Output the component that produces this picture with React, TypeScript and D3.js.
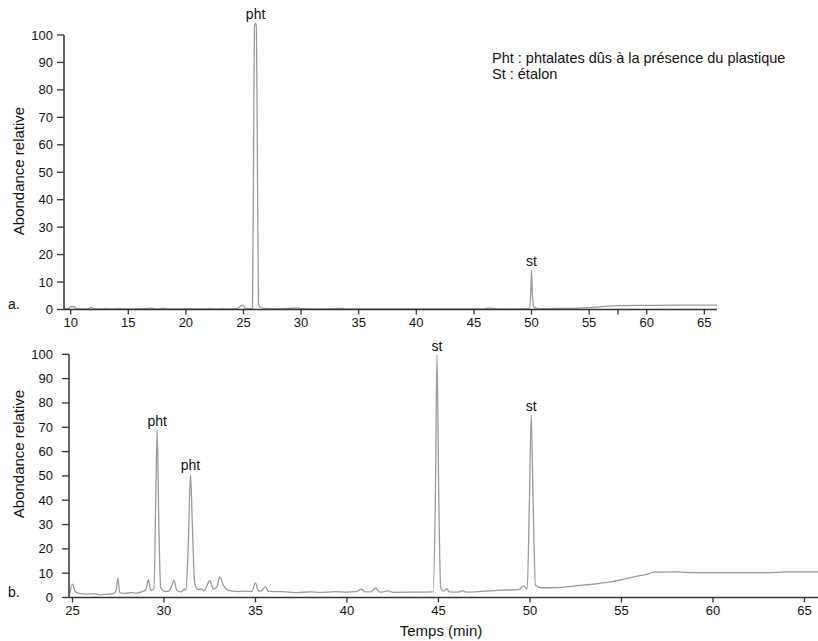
import React from "react";
import * as d3 from "d3";

// ---- Data ----
const topTimes = [9.42, 9.8, 10.0, 10.2, 10.5, 11.0, 11.5, 11.8, 12.0, 12.4, 13.0, 13.5, 14.2, 15.0, 15.8, 16.5, 17.0, 17.5, 18.0, 18.6, 19.5, 20.5, 21.2, 22.0, 22.6, 23.3, 24.0, 24.5, 24.9, 25.2, 25.5, 25.78, 25.88, 25.95, 26.05, 26.12, 26.2, 26.3, 26.45, 26.8, 27.5, 28.5, 29.7, 30.2, 31.5, 33.5, 34.0, 36.0, 40.0, 44.0, 45.8, 46.2, 47.5, 49.8, 49.92, 50.0, 50.08, 50.2, 50.4, 51.0, 52.0, 53.0, 54.0, 55.0, 56.0, 57.0, 58.0, 60.0, 63.0, 66.1];
const topValues = [0.3, 0.4, 1.0, 1.1, 0.3, 0.2, 0.2, 0.8, 0.3, 0.2, 0.3, 0.2, 0.3, 0.2, 0.3, 0.3, 0.5, 0.2, 0.4, 0.2, 0.2, 0.3, 0.2, 0.3, 0.2, 0.3, 0.2, 0.5, 1.6, 0.4, 0.3, 0.3, 60, 103, 104.3, 103, 60, 2, 0.8, 0.4, 0.3, 0.3, 0.6, 0.3, 0.2, 0.4, 0.2, 0.2, 0.2, 0.2, 0.2, 0.5, 0.2, 0.3, 5, 14.3, 5, 1, 0.5, 0.3, 0.4, 0.4, 0.5, 0.7, 1.0, 1.3, 1.4, 1.5, 1.6, 1.6];

const bottomTimes = [24.85, 25.0, 25.15, 25.4, 25.8, 26.2, 26.5, 26.9, 27.2, 27.38, 27.48, 27.58, 27.9, 28.2, 28.5, 28.8, 29.0, 29.15, 29.28, 29.45, 29.55, 29.63, 29.72, 29.82, 30.0, 30.15, 30.35, 30.55, 30.7, 30.95, 31.1, 31.2, 31.32, 31.45, 31.55, 31.68, 31.85, 32.0, 32.2, 32.5, 32.7, 32.9, 33.05, 33.25, 33.5, 34.0, 34.3, 34.8, 35.0, 35.15, 35.3, 35.55, 35.7, 36.5, 37.3, 38.0, 38.6, 39.3, 40.0, 40.5, 40.78, 41.0, 41.3, 41.56, 41.8, 42.25, 42.5, 43.5, 44.7, 44.83, 44.92, 45.02, 45.12, 45.3, 45.45, 45.6, 46.1, 46.3, 46.5, 47.5, 48.5, 49.4, 49.65, 49.85, 49.97, 50.07, 50.17, 50.3, 50.6, 51.5, 52.3, 53.0, 53.5, 54.3, 55.0, 55.7, 56.3, 56.8, 58.0, 59.0, 61.0, 63.0, 64.0, 65.74];
const bottomValues = [1.5, 5.5, 2.5, 1.6, 1.4, 1.6, 1.1, 1.4, 1.5, 3, 8, 2, 1.7, 2.0, 1.8, 2.4, 3.2, 7.2, 3.0, 3.5, 40, 69, 30, 4, 2.6, 2.5, 3.5, 7, 3, 2.3, 3.5, 3, 20, 50.7, 30, 6, 3.2, 3.5, 2.8, 7, 3.5, 4.5, 8.5, 5, 3, 2.4, 2.6, 2.5, 6.0, 2.8, 2.6, 4.5, 2.5, 2.4, 2.0, 2.3, 2.1, 2.4, 2.2, 2.4, 3.4, 2.3, 2.3, 3.9, 2.2, 2.7, 2.1, 2.2, 2.3, 40, 99.7, 40, 4, 2.6, 3.6, 2.3, 2.2, 2.8, 2.2, 2.6, 3.0, 3.2, 4.8, 3.5, 40, 75, 40, 5, 4.0, 4.1, 4.6, 5.2, 5.5, 6.3, 7.3, 8.5, 9.4, 10.4, 10.5, 10.2, 10.2, 10.2, 10.5, 10.5];

const yTicks = [0, 10, 20, 30, 40, 50, 60, 70, 80, 90, 100];
const topXTicks = [10, 15, 20, 25, 30, 35, 40, 45, 50, 55, 60, 65];
const topMinorTicks = [57.5];
const bottomXTicks = [25, 30, 35, 40, 45, 50, 55, 60, 65];

const topLabels = ["pht", "st"];
const topLabelTimes = [26.05, 50.0];
const topLabelValues = [104.3, 14.3];
const bottomLabels = ["pht", "pht", "st", "st"];
const bottomLabelTimes = [29.63, 31.45, 44.92, 50.07];
const bottomLabelValues = [69, 50.7, 99.7, 75];

const legendLines = ["Pht : phtalates dûs à la présence du plastique", "St : étalon"];

const FONT = "'Liberation Sans', Arial, Helvetica, sans-serif";
const LINE = "#9b9b9b";
const AXIS = "#333";

type PanelProps = {
  times: number[];
  values: number[];
  xDomain: [number, number];
  xRange: [number, number];
  yRange: [number, number];
  xTicks: number[];
  minorTicks: number[];
  labels: string[];
  labelTimes: number[];
  labelValues: number[];
  panelLetter: string;
  titleY: number;
};

function Panel(p: PanelProps) {
  const x = d3.scaleLinear().domain(p.xDomain).range(p.xRange);
  const y = d3.scaleLinear().domain([0, 100]).range(p.yRange);
  const pts: [number, number][] = p.times.map((t, i) => [t, p.values[i]]);
  const line = d3
    .line<[number, number]>()
    .x((d) => x(d[0]))
    .y((d) => y(d[1]))
    .curve(d3.curveMonotoneX);
  const x0 = p.xRange[0];
  const y0 = y(0);
  return (
    <g>
      <path d={line(pts) || ""} fill="none" stroke={LINE} strokeWidth={1.3} />
      {/* y axis */}
      <line x1={x0} x2={x0} y1={y(100)} y2={y0} stroke={AXIS} strokeWidth={1.5} />
      {yTicks.map((v) => (
        <g key={"y" + v}>
          <line x1={x0 - 7} x2={x0} y1={y(v)} y2={y(v)} stroke={AXIS} strokeWidth={1.3} />
          <text x={53} y={y(v) + 4.5} textAnchor="end" fontSize={13} fontFamily={FONT} fill="#111">
            {v}
          </text>
        </g>
      ))}
      {/* x axis */}
      <line x1={x0} x2={p.xRange[1]} y1={y0} y2={y0} stroke={AXIS} strokeWidth={1.5} />
      {p.xTicks.map((t) => (
        <g key={"x" + t}>
          <line x1={x(t)} x2={x(t)} y1={y0} y2={y0 + 5} stroke={AXIS} strokeWidth={1.3} />
          <text x={x(t)} y={y0 + 17.5} textAnchor="middle" fontSize={13} fontFamily={FONT} fill="#111">
            {t}
          </text>
        </g>
      ))}
      {p.minorTicks.map((t) => (
        <line key={"m" + t} x1={x(t)} x2={x(t)} y1={y0} y2={y0 + 5} stroke={AXIS} strokeWidth={1.3} />
      ))}
      {p.labels.map((l, i) => (
        <text
          key={"l" + i}
          x={x(p.labelTimes[i])}
          y={y(p.labelValues[i]) - 4}
          textAnchor="middle"
          fontSize={14}
          fontFamily={FONT}
          fill="#111"
        >
          {l}
        </text>
      ))}
      <text
        transform={`translate(24,${p.titleY}) rotate(-90)`}
        textAnchor="middle"
        fontSize={15}
        fontFamily={FONT}
        fill="#111"
      >
        Abondance relative
      </text>
      <text x={8} y={y0 - 0.5} fontSize={14} fontFamily={FONT} fill="#111">
        {p.panelLetter}
      </text>
    </g>
  );
}

export default function App() {
  return (
    <div style={{ position: "absolute", left: 0, top: 0 }}>
      <svg width={818} height={641} style={{ display: "block", background: "#fff" }}>
        <Panel
          times={topTimes}
          values={topValues}
          xDomain={[9.42, 66.1]}
          xRange={[64, 717]}
          yRange={[309.5, 35]}
          xTicks={topXTicks}
          minorTicks={topMinorTicks}
          labels={topLabels}
          labelTimes={topLabelTimes}
          labelValues={topLabelValues}
          panelLetter="a."
          titleY={171}
        />
        <Panel
          times={bottomTimes}
          values={bottomValues}
          xDomain={[24.81, 65.74]}
          xRange={[69, 818]}
          yRange={[597.5, 354.3]}
          xTicks={bottomXTicks}
          minorTicks={[]}
          labels={bottomLabels}
          labelTimes={bottomLabelTimes}
          labelValues={bottomLabelValues}
          panelLetter="b."
          titleY={454}
        />
        {legendLines.map((s, i) => (
          <text key={"lg" + i} x={492} y={63 + i * 16} fontSize={14.5} fontFamily={FONT} fill="#111">
            {s}
          </text>
        ))}
        <text x={441} y={636} textAnchor="middle" fontSize={15} fontFamily={FONT} fill="#111">
          Temps (min)
        </text>
      </svg>
    </div>
  );
}
